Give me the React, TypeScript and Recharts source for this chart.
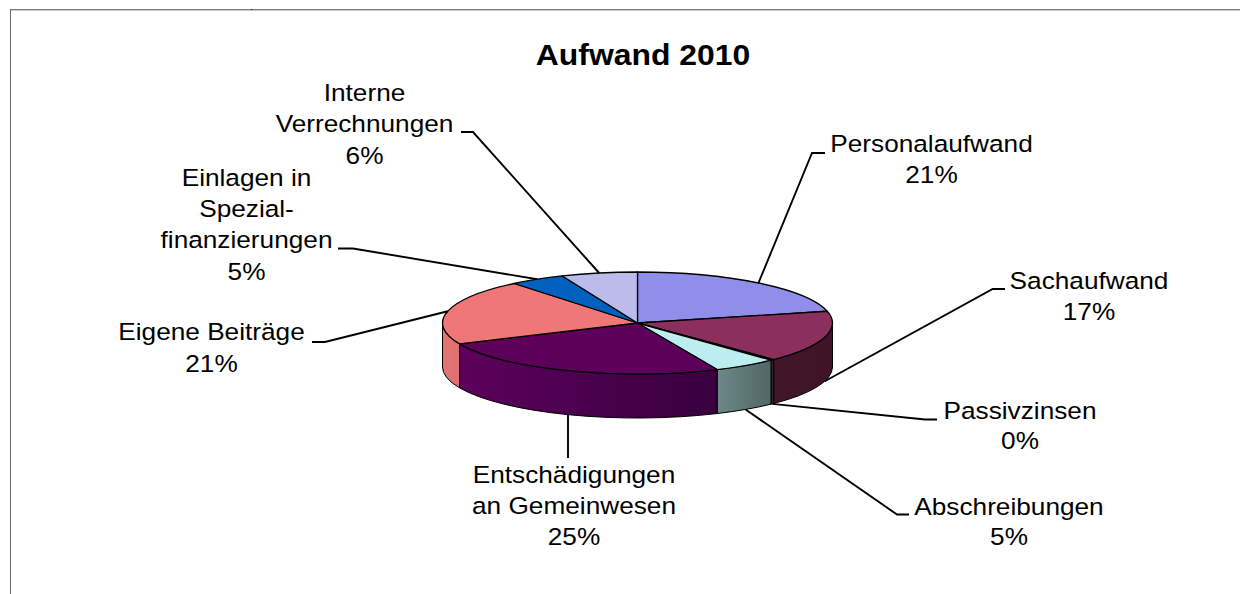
import React from "react";
import { PieChart, Pie, Cell } from "recharts";

const categories = ["Personalaufwand", "Sachaufwand", "Passivzinsen", "Abschreibungen", "Entschädigungen an Gemeinwesen", "Eigene Beiträge", "Einlagen in Spezialfinanzierungen", "Interne Verrechnungen"];
const values = [21.3, 16.4, 0.3, 5.3, 25, 20.8, 4.6, 6.3];
const percentLabels = ["21%", "17%", "0%", "5%", "25%", "21%", "5%", "6%"];
const labelLines = [
  ["Personalaufwand"],
  ["Sachaufwand"],
  ["Passivzinsen"],
  ["Abschreibungen"],
  ["Entschädigungen", "an Gemeinwesen"],
  ["Eigene Beiträge"],
  ["Einlagen in", "Spezial-", "finanzierungen"],
  ["Interne", "Verrechnungen"],
];
const topColors = ["#8F8FEA", "#8C2F5C", "#3a3a30", "#BCEEF0", "#5C005C", "#EF7777", "#0060BE", "#BCBCEC"];
const sideLeft = ["#555590", "#421628", "#2a2a26", "#6C8888", "#5C005C", "#E57575", "#003a70", "#70708c"];
const sideRight = ["#555590", "#3E1426", "#2a2a26", "#526666", "#38003E", "#DD7070", "#003a70", "#70708c"];

// layout: text centre x, first line centre y, line gap, elbow point, line end point
const labelLayout = [
  { tx: 931.5, ty: 143.7, gap: 30.3, ex: 812, ey: 153, lx: 825, ly: 153 },
  { tx: 1089, ty: 280.5, gap: 30.5, ex: 992.7, ey: 289, lx: 1005, ly: 289 },
  { tx: 1020, ty: 410, gap: 30.7, ex: 925, ey: 419.5, lx: 937, ly: 419.5 },
  { tx: 1009, ty: 506, gap: 30, ex: 897, ey: 514.5, lx: 909, ly: 514.5 },
  { tx: 574, ty: 474, gap: 31, ex: 568, ey: 458, lx: 568, ly: 458 },
  { tx: 211.5, ty: 331, gap: 32, ex: 325, ey: 342, lx: 312, ly: 342 },
  { tx: 246.5, ty: 177, gap: 31.3, ex: 353, ey: 248.5, lx: 338, ly: 248.5 },
  { tx: 364.5, ty: 92.5, gap: 31.3, ex: 473, ey: 132, lx: 461, ly: 132 },
];

const data = categories.map((name, i) => ({ name, value: values[i] }));

const CX = 637.5;
const CY = 323;
const RX = 195;
const K = 51 / 195;
const DEPTH = 44;
const FONT = "'Liberation Sans', Arial, sans-serif";
const STRETCH = 1.07;

const pt = (a: number, r: number, cx: number, cy: number) => {
  const t = (a * Math.PI) / 180;
  return [cx + r * Math.cos(t), cy - r * K * Math.sin(t)];
};

const TopShape = (p: any) => {
  const { cx, cy, outerRadius: r, startAngle: s, endAngle: e, fill } = p;
  const a = pt(s, r, cx, cy);
  const b = pt(e, r, cx, cy);
  const large = Math.abs(s - e) > 180 ? 1 : 0;
  const d = `M${cx},${cy}L${a[0]},${a[1]}A${r},${r * K} 0 ${large} 1 ${b[0]},${b[1]}Z`;
  return <path d={d} fill={fill} stroke="#000" strokeWidth={1.3} strokeLinejoin="round" />;
};

const SideShape = (p: any) => {
  const { cx, cy, outerRadius: r, startAngle: s, endAngle: e, fill } = p;
  const from = Math.min(s, 0);
  const to = Math.max(e, -180);
  if (from <= to) return <g />;
  const a = pt(from, r, cx, cy);
  const b = pt(to, r, cx, cy);
  const d = `M${a[0]},${a[1]}A${r},${r * K} 0 0 1 ${b[0]},${b[1]}L${b[0]},${b[1] + DEPTH}A${r},${r * K} 0 0 0 ${a[0]},${a[1] + DEPTH}Z`;
  return <path d={d} fill={fill} stroke="#000" strokeWidth={1} strokeLinejoin="round" />;
};

const renderLabel = (p: any) => {
  const { cx, cy, outerRadius: r, midAngle, index } = p;
  const l = labelLayout[index];
  const a = pt(midAngle, r, cx, cy);
  const front = midAngle < 0 && midAngle > -180;
  const sy = a[1] + (front ? DEPTH : 0);
  const lines = [...labelLines[index], percentLabels[index]];
  return (
    <g>
      <polyline points={`${a[0]},${sy} ${l.ex},${l.ey} ${l.lx},${l.ly}`} fill="none" stroke="#000" strokeWidth={1.9} />
      {lines.map((t, i) => (
        <text key={i} transform={`translate(${l.tx} ${l.ty + i * l.gap}) scale(${STRETCH} 1)`} x={0} y={0} textAnchor="middle" dominantBaseline="central" fontFamily={FONT} fontSize={24.5} fill="#000">
          {t}
        </text>
      ))}
    </g>
  );
};

export default function App() {
  return (
    <div style={{ position: "absolute", left: 0, top: 0, width: 1240, height: 594, overflow: "hidden", background: "#fff" }}>
      <div style={{ position: "absolute", left: 10, top: 9, right: 0, height: 1, background: "#808080", boxShadow: "0 1px 0 #c8c8c8" }} />
      <div style={{ position: "absolute", left: 10, top: 9, bottom: 0, width: 1, background: "#6a6a6a" }} />
      <div style={{ position: "absolute", left: 251, top: 9, width: 1, height: 1, background: "#222" }} />
      <PieChart width={1240} height={594} margin={{ top: 0, right: 0, bottom: 0, left: 0 }}>
        <defs>
          {categories.map((_, i) => (
            <linearGradient key={i} id={`side${i}`} x1="0" y1="0" x2="1" y2="0">
              <stop offset="0%" stopColor={sideLeft[i]} />
              <stop offset="100%" stopColor={sideRight[i]} />
            </linearGradient>
          ))}
        </defs>
        <text transform={`translate(643 54.5) scale(1.063 1)`} x={0} y={0} textAnchor="middle" dominantBaseline="central" fontFamily={FONT} fontWeight="bold" fontSize={30} fill="#000">
          Aufwand 2010
        </text>
        <Pie data={data} dataKey="value" nameKey="name" cx={CX} cy={CY} outerRadius={RX} startAngle={90} endAngle={-270} isAnimationActive={false} shape={SideShape} label={false} labelLine={false} stroke="none">
          {categories.map((_, i) => (
            <Cell key={i} fill={`url(#side${i})`} />
          ))}
        </Pie>
        <Pie data={data} dataKey="value" nameKey="name" cx={CX} cy={CY} outerRadius={RX} startAngle={90} endAngle={-270} isAnimationActive={false} shape={TopShape} label={renderLabel} labelLine={false}>
          {categories.map((_, i) => (
            <Cell key={i} fill={topColors[i]} />
          ))}
        </Pie>
      </PieChart>
    </div>
  );
}
